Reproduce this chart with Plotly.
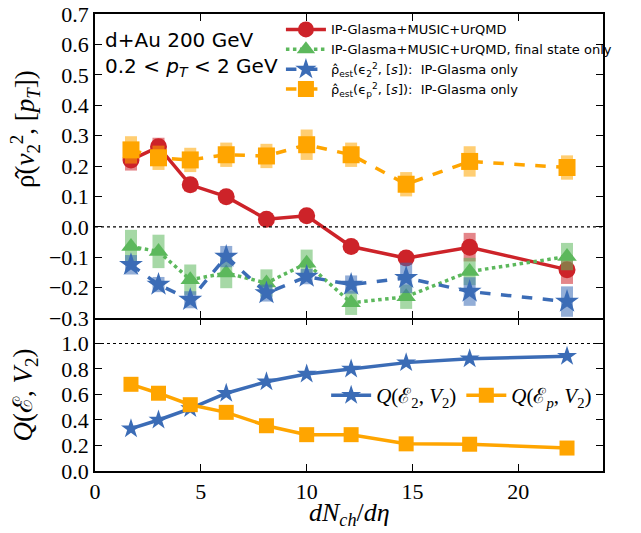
import plotly.graph_objects as go

x = [1.7, 3.0, 4.5, 6.2, 8.1, 10.0, 12.1, 14.7, 17.7, 22.3]

# top panel: rho(v2^2,[pT])
rho_full = [0.220, 0.263, 0.138, 0.099, 0.025, 0.036, -0.065, -0.103, -0.067, -0.141]
rho_full_err = [0.035, 0.030, 0.022, 0.020, 0.018, 0.018, 0.020, 0.022, 0.047, 0.047]
rho_final = [-0.065, -0.081, -0.174, -0.152, -0.185, -0.120, -0.250, -0.230, -0.147, -0.098]
rho_final_err = [0.055, 0.055, 0.050, 0.050, 0.045, 0.045, 0.040, 0.040, 0.045, 0.045]
rho_e2 = [-0.125, -0.190, -0.240, -0.098, -0.218, -0.164, -0.190, -0.168, -0.213, -0.246]
rho_e2_err = [0.032, 0.025, 0.028, 0.035, 0.028, 0.025, 0.030, 0.050, 0.047, 0.050]
rho_ep = [0.253, 0.227, 0.220, 0.237, 0.233, 0.270, 0.237, 0.140, 0.215, 0.195]
rho_ep_err = [0.045, 0.040, 0.040, 0.040, 0.040, 0.050, 0.040, 0.040, 0.050, 0.040]

# bottom panel: Q(E, V2)
q_e2 = [0.332, 0.400, 0.490, 0.610, 0.700, 0.760, 0.800, 0.850, 0.880, 0.900]
q_ep = [0.680, 0.610, 0.520, 0.460, 0.355, 0.285, 0.285, 0.213, 0.210, 0.180]

x_ticks = [0, 5, 10, 15, 20]
top_ticks = [-0.3, -0.2, -0.1, 0.0, 0.1, 0.2, 0.3, 0.4, 0.5, 0.6, 0.7]
top_ticktext = ["−0.3", "−0.2", "−0.1", "0.0", "0.1", "0.2", "0.3", "0.4", "0.5", "0.6", "0.7"]
bot_ticks = [0.0, 0.2, 0.4, 0.6, 0.8, 1.0]
bot_ticktext = ["0.0", "0.2", "0.4", "0.6", "0.8", "1.0"]

RED = "#cd2329"
GREEN = "#5cb85c"
BLUE = "#3b6cb6"
ORANGE = "#ffa500"

def rgba(h, a):
    h = h.lstrip("#")
    r, g, b = int(h[0:2], 16), int(h[2:4], 16), int(h[4:6], 16)
    return f"rgba({r},{g},{b},{a})"

SANS = "DejaVu Sans"
SERIF = "Liberation Serif"

fig = go.Figure()

def top_trace(y, err, color, symbol, dash, name, size):
    return go.Scatter(
        x=x, y=y, mode="lines+markers", name=name, xaxis="x", yaxis="y",
        line=dict(color=color, width=3.5, dash=dash),
        marker=dict(color=color, symbol=symbol, size=size, line=dict(width=0)),
        error_y=dict(type="data", array=err, visible=True, thickness=12,
                     width=0, color=rgba(color, 0.55)),
        legend="legend",
    )

fig.add_trace(top_trace(rho_full, rho_full_err, RED, "circle", "solid",
                        "IP-Glasma+MUSIC+UrQMD", 17))
fig.add_trace(top_trace(rho_final, rho_final_err, GREEN, "triangle-up", "dot",
                        "IP-Glasma+MUSIC+UrQMD, final state only", 17))
fig.add_trace(top_trace(rho_e2, rho_e2_err, BLUE, "star", "dash",
                        "ρ̂<sub>est</sub>(ϵ<sub>2</sub><sup>2</sup>, [<i>s</i>]):  IP-Glasma only", 18))
fig.add_trace(top_trace(rho_ep, rho_ep_err, ORANGE, "square", "dash",
                        "ρ̂<sub>est</sub>(ϵ<sub>p</sub><sup>2</sup>, [<i>s</i>]):  IP-Glasma only", 17))

fig.add_trace(go.Scatter(
    x=x, y=q_e2, mode="lines+markers", name="<i>Q</i>(ℰ<sub>2</sub>, <i>V</i><sub>2</sub>)",
    xaxis="x2", yaxis="y2",
    line=dict(color=BLUE, width=3.5), marker=dict(color=BLUE, symbol="star", size=15),
    legend="legend2"))
fig.add_trace(go.Scatter(
    x=x, y=q_ep, mode="lines+markers", name="<i>Q</i>(ℰ<sub><i>p</i></sub>, <i>V</i><sub>2</sub>)",
    xaxis="x2", yaxis="y2",
    line=dict(color=ORANGE, width=3.5), marker=dict(color=ORANGE, symbol="square", size=15),
    legend="legend2"))
# invisible trace to carry the top tick axis of the lower panel
fig.add_trace(go.Scatter(x=[x[0]], y=[q_e2[0]], xaxis="x3", yaxis="y2", mode="markers",
                         marker=dict(opacity=0), showlegend=False, hoverinfo="skip"))

# reference dotted lines
fig.add_shape(type="line", xref="x", yref="y", x0=0, x1=24, y0=0, y1=0,
              line=dict(color="black", width=1.2, dash="dot"))
fig.add_shape(type="line", xref="x2", yref="y2", x0=0, x1=24, y0=1, y1=1,
              line=dict(color="black", width=1.2, dash="dot"))

SPLIT = 0.3348
tick = dict(ticks="inside", ticklen=7, tickwidth=1.3, tickcolor="black",
            showgrid=False, zeroline=False, automargin=False,
            tickfont=dict(family=SERIF, size=22, color="black"))
line = dict(showline=True, linecolor="black", linewidth=1.5)

fig.update_layout(
    xaxis=dict(domain=[0, 1], anchor="y", range=[0, 24], tickvals=x_ticks,
               showticklabels=False, mirror="ticks", **line, **tick),
    yaxis=dict(domain=[SPLIT, 1], anchor="x", range=[-0.3, 0.7], tickvals=top_ticks,
               ticktext=top_ticktext, mirror="ticks", **line, **tick),
    xaxis2=dict(domain=[0, 1], anchor="y2", range=[0, 24], tickvals=x_ticks,
                mirror=False, **line, **tick),
    xaxis3=dict(domain=[0, 1], anchor="y2", overlaying="x2", side="top", range=[0, 24],
                tickvals=x_ticks, showticklabels=False, showline=False, **tick),
    yaxis2=dict(domain=[0, SPLIT], anchor="x2", range=[0, 1.2], tickvals=bot_ticks,
                ticktext=bot_ticktext, mirror="ticks", **line, **tick),
)

# axis titles
fig.add_annotation(xref="paper", yref="paper", x=-0.138, y=0.748, xanchor="center", yanchor="middle",
                   text="ρ̂(<i>v</i><sub>2</sub><sup>2</sup>, [<i>p<sub>T</sub></i>])", textangle=-90,
                   showarrow=False, font=dict(family=SERIF, size=27, color="black"))
fig.add_annotation(xref="paper", yref="paper", x=-0.138, y=0.167, xanchor="center", yanchor="middle",
                   text="<i>Q</i>(ℰ, <i>V</i><sub>2</sub>)", textangle=-90,
                   showarrow=False, font=dict(family=SERIF, size=27, color="black"))
fig.add_annotation(xref="paper", yref="paper", x=0.5, y=-0.095, xanchor="center", yanchor="middle",
                   text="<i>dN<sub>ch</sub></i>/<i>dη</i>", showarrow=False,
                   font=dict(family=SERIF, size=26, color="black"))

fig.add_annotation(xref="paper", yref="paper", x=0.015, y=0.943, xanchor="left", yanchor="middle",
                   text="d+Au 200 GeV", showarrow=False,
                   align="left", font=dict(family=SANS, size=20, color="black"))
fig.add_annotation(xref="paper", yref="paper", x=0.015, y=0.884, xanchor="left", yanchor="middle",
                   text="0.2 < <i>p<sub>T</sub></i> < 2 GeV", showarrow=False,
                   align="left", font=dict(family=SANS, size=20, color="black"))

fig.update_layout(
    width=641, height=533,
    margin=dict(l=95, r=38, t=14, b=62),
    paper_bgcolor="white", plot_bgcolor="white",
    showlegend=True,
    legend=dict(x=0.366, y=0.999, xanchor="left", yanchor="top", bgcolor="rgba(0,0,0,0)",
                font=dict(family=SANS, size=13, color="black"), tracegroupgap=0,
                itemwidth=40),
    legend2=dict(x=0.455, y=0.165, xanchor="left", yanchor="middle", orientation="h",
                 bgcolor="rgba(0,0,0,0)", font=dict(family=SERIF, size=21, color="black"),
                 itemwidth=40),
)

fig.write_html("out.html", config={"displayModeBar": False},
               post_script="document.body.style.margin='0px';")
